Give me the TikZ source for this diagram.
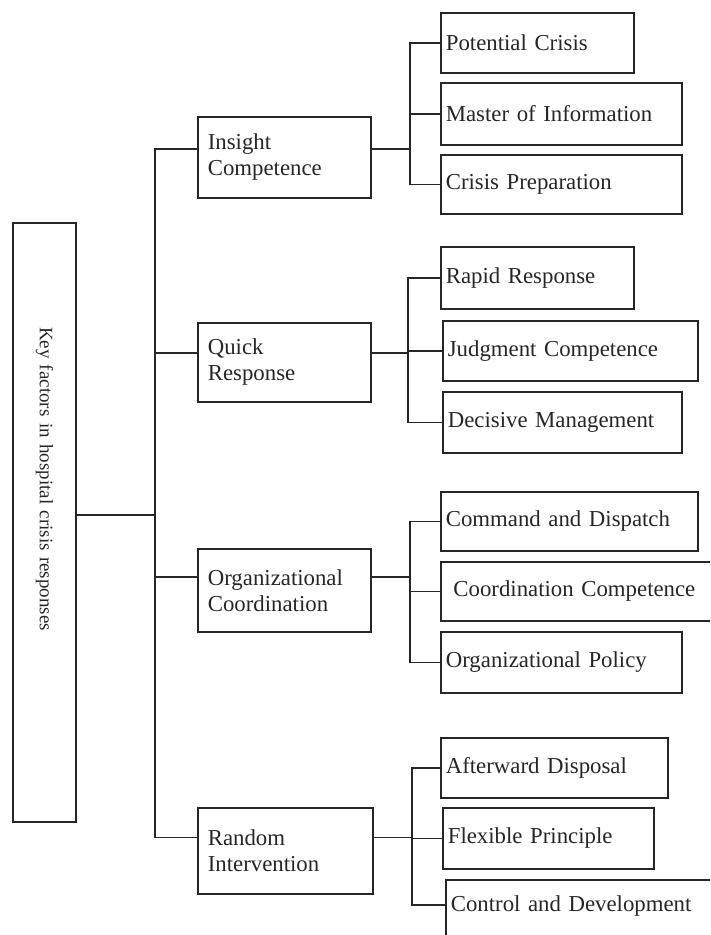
\documentclass[tikz,border=0pt]{standalone}
\usepackage{fontspec}
\setmainfont{Liberation Serif}[WordSpace=2]

\begin{document}
\begin{tikzpicture}[x=1pt,y=-1pt,line width=1.7pt,color=black!85]
	%
	% `factor' is used for the four middle boxes.
	% `item' is used for the twelve boxes on the right.
	\tikzstyle{factor} = [draw,anchor=north west,align=left,inner xsep=10pt,inner ysep=0pt,text width=153pt,font=\fontsize{22.8}{26}\selectfont]
	\tikzstyle{item} = [draw,anchor=north west,align=left,inner xsep=5pt,inner ysep=0pt,font=\fontsize{22.8}{26}\selectfont]
	%
	% Frame
	\useasboundingbox (0,0) rectangle (710,935);
	\clip (0,0) rectangle (710,935);
	%
	% Root
	\node[draw,rotate=-90,minimum height=63pt,text width=391pt,inner xsep=104pt,align=left,font=\fontsize{19}{22}\selectfont] (key) at (44.5,522.5) {Key factors in hospital crisis responses};
	%
	% Factors
	\node[factor,minimum height=81pt] (ic) at (197,116) {Insight\\Competence};
	\node[factor,minimum height=79pt] (qr) at (197,322) {Quick\\Response};
	\node[factor,minimum height=83pt] (oc) at (197,548) {Organizational\\Coordination};
	\node[factor,minimum height=86pt,text width=155pt] (ri) at (197,807) {Random\\Intervention};
	%
	% Items of Insight Competence
	\node[item,text width=183pt,minimum height=60pt] (pc) at (440,12) {Potential Crisis};
	\node[item,text width=231pt,minimum height=62pt] (mi) at (440,82) {Master of Information};
	\node[item,text width=231pt,minimum height=59pt] (cp) at (440,154) {Crisis Preparation};
	%
	% Items of Quick Response
	\node[item,text width=183pt,minimum height=62pt] (rr) at (440,246) {Rapid Response};
	\node[item,text width=245pt,minimum height=60pt] (jc) at (442,320) {Judgment Competence};
	\node[item,text width=229pt,minimum height=61pt] (dm) at (442,391) {Decisive Management};
	%
	% Items of Organizational Coordination
	\node[item,text width=247pt,minimum height=59pt] (cd) at (440,491) {Command and Dispatch};
	\node[item,text width=270pt,minimum height=59pt] (cc) at (440,561) {\ Coordination Competence};
	\node[item,text width=231pt,minimum height=61pt] (op) at (440,631) {Organizational Policy};
	%
	% Items of Random Intervention
	\node[item,text width=217pt,minimum height=60pt] (ad) at (440,737) {Afterward Disposal};
	\node[item,text width=201pt,minimum height=61pt] (fp) at (442,807) {Flexible Principle};
	\node[item,text width=270pt,text height=32pt,text depth=80pt] (cdv) at (445,879) {Control and Development};
	%
	% Join points
	\coordinate (trunk) at (155,0);
	\coordinate (b1) at (410,0);
	\coordinate (b2) at (408,0);
	\coordinate (b3) at (410,0);
	\coordinate (b4) at (412,0);
	\coordinate (cdv-in) at ([yshift=7pt]cdv.base west);
	%
	% Trunk
	\draw ([yshift=7.5pt]key.north) -- ([yshift=7.5pt]key.north -| trunk);
	\draw ([yshift=8.5pt]ic.west) -| ([yshift=13.5pt]ri.west -| trunk) -- ([yshift=13.5pt]ri.west);
	\draw ([yshift=9.5pt]qr.west) -- ([yshift=9.5pt]qr.west -| trunk);
	\draw ([yshift=13.5pt]oc.west) -- ([yshift=13.5pt]oc.west -| trunk);
	%
	% Bracket 1
	\draw ([yshift=8.5pt]ic.east) -- ([yshift=8.5pt]ic.east -| b1);
	\draw (pc.west) -| (b1 |- cp.west) -- (cp.west);
	\draw (mi.west) -- (mi.west -| b1);
	%
	% Bracket 2
	\draw ([yshift=9.5pt]qr.east) -- ([yshift=9.5pt]qr.east -| b2);
	\draw (rr.west) -| (b2 |- dm.west) -- (dm.west);
	\draw (jc.west) -- (jc.west -| b2);
	%
	% Bracket 3
	\draw ([yshift=13.5pt]oc.east) -- ([yshift=13.5pt]oc.east -| b3);
	\draw (cd.west) -| (b3 |- op.west) -- (op.west);
	\draw (cc.west) -- (cc.west -| b3);
	%
	% Bracket 4
	\draw ([yshift=13.5pt]ri.east) -- ([yshift=13.5pt]ri.east -| b4);
	\draw (ad.west) -| (b4 |- cdv-in) -- (cdv-in);
	\draw (fp.west) -- (fp.west -| b4);
	%
\end{tikzpicture}
\end{document}
